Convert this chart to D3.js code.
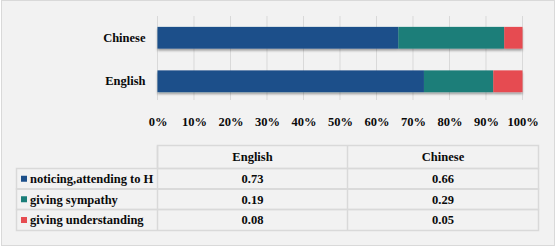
<!DOCTYPE html>
<html>
<head>
<meta charset="utf-8">
<script src="https://cdn.jsdelivr.net/npm/d3@7"></script>
<style>
  body { margin: 0; background: #fff; }
  svg text { font-family: "Liberation Serif", "Times New Roman", serif; font-weight: bold; font-size: 12.5px; fill: #0a0a0a; }
</style>
</head>
<body>
<script>
// chart data
const categories = ['Chinese', 'English'];
const seriesNames = ['noticing,attending to H', 'giving sympathy', 'giving understanding'];
const english = [0.73, 0.19, 0.08];
const chinese = [0.66, 0.29, 0.05];
const tableCols = ['English', 'Chinese'];
const colors = ['#1c4f8a', '#1a7e79', '#e64c51'];
const tickVals = [0, 0.1, 0.2, 0.3, 0.4, 0.5, 0.6, 0.7, 0.8, 0.9, 1.0];

const W = 558, H = 249;
const svg = d3.select('body').append('svg').attr('width', W).attr('height', H);

// frame
svg.append('rect').attr('x', 0).attr('y', 0).attr('width', W).attr('height', H).attr('fill', '#fff');
svg.append('rect').attr('x', 1.5).attr('y', 0.5).attr('width', 553).attr('height', 245)
    .attr('fill', '#f2f2f2').attr('stroke', '#d9d9d9');

const defs = svg.append('defs');
const f = defs.append('filter').attr('id', 'shadow').attr('x', '-5%').attr('y', '-20%').attr('width', '110%').attr('height', '160%');
f.append('feDropShadow').attr('dx', 0).attr('dy', 2).attr('stdDeviation', 1.2)
    .attr('flood-color', '#000').attr('flood-opacity', 0.35);

const xScale = d3.scaleLinear().domain([0, 1]).range([157.5, 522.5]);
const yScale = d3.scaleBand().domain(categories).range([16, 103]).paddingInner(0.5).paddingOuter(0.25);

// gridlines
svg.append('g').selectAll('line').data(tickVals).enter().append('line')
    .attr('x1', d => xScale(d)).attr('x2', d => xScale(d))
    .attr('y1', 16).attr('y2', 100)
    .attr('stroke', '#d9d9d9').attr('stroke-width', 1);

// stacked bars
const dataByCat = { 'English': english, 'Chinese': chinese };
categories.forEach(cat => {
    const vals = dataByCat[cat];
    let acc = 0;
    const segs = vals.map((v, i) => { const s = { x0: acc, x1: acc + v, i: i }; acc += v; return s; });
    const g = svg.append('g').attr('filter', 'url(#shadow)');
    g.selectAll('rect').data(segs).enter().append('rect')
        .attr('x', d => xScale(d.x0))
        .attr('width', d => xScale(d.x1) - xScale(d.x0))
        .attr('y', yScale(cat))
        .attr('height', yScale.bandwidth())
        .attr('fill', d => colors[d.i]);
});

// category labels
const yAxis = svg.append('g')
    .attr('transform', 'translate(' + xScale(0) + ',0)')
    .call(d3.axisLeft(yScale).tickSize(0).tickPadding(12));
yAxis.select('.domain').remove();
yAxis.selectAll('text').attr('font-size', null).attr('font-family', null);

// x axis labels
const xAxis = svg.append('g')
    .attr('transform', 'translate(0,117)')
    .call(d3.axisBottom(xScale).tickValues(tickVals).tickFormat(d3.format('.0%')).tickSize(0).tickPadding(0));
xAxis.select('.domain').remove();
xAxis.selectAll('text').attr('font-size', null).attr('font-family', null);

// data table
const tLeft = 16.5, tMid = 157.5, tSplit = 347.5, tRight = 538.5;
const rowY = [145.5, 168.5, 189, 209.5, 230.5];
const lineCol = '#d9d9d9';
const tg = svg.append('g');
// header row
tg.append('rect').attr('x', tMid).attr('y', rowY[0]).attr('width', tRight - tMid).attr('height', rowY[1] - rowY[0])
    .attr('fill', 'none').attr('stroke', lineCol).attr('stroke-width', 1.5);
tg.append('line').attr('x1', tSplit).attr('x2', tSplit).attr('y1', rowY[0]).attr('y2', rowY[4])
    .attr('stroke', lineCol).attr('stroke-width', 1.5);
for (let r = 1; r <= 3; r++) {
    tg.append('rect').attr('x', tLeft).attr('y', rowY[r]).attr('width', tRight - tLeft).attr('height', rowY[r + 1] - rowY[r])
        .attr('fill', 'none').attr('stroke', lineCol).attr('stroke-width', 1.5);
}
tg.append('line').attr('x1', tMid).attr('x2', tMid).attr('y1', rowY[0]).attr('y2', rowY[4])
    .attr('stroke', lineCol).attr('stroke-width', 1.5);

const colCenter = [(tMid + tSplit) / 2, (tSplit + tRight) / 2];
tableCols.forEach((c, j) => {
    tg.append('text').attr('x', colCenter[j]).attr('y', (rowY[0] + rowY[1]) / 2).attr('dy', '0.35em')
        .attr('text-anchor', 'middle').text(c);
});
const colData = [english, chinese];
seriesNames.forEach((name, i) => {
    const cy = (rowY[i + 1] + rowY[i + 2]) / 2;
    tg.append('rect').attr('x', 21).attr('y', cy - 3).attr('width', 6).attr('height', 6).attr('fill', colors[i]);
    tg.append('text').attr('x', 30).attr('y', cy).attr('dy', '0.35em').text(name);
    colData.forEach((arr, j) => {
        tg.append('text').attr('x', colCenter[j]).attr('y', cy).attr('dy', '0.35em')
            .attr('text-anchor', 'middle').text(arr[i].toFixed(2));
    });
});
</script>
</body>
</html>
